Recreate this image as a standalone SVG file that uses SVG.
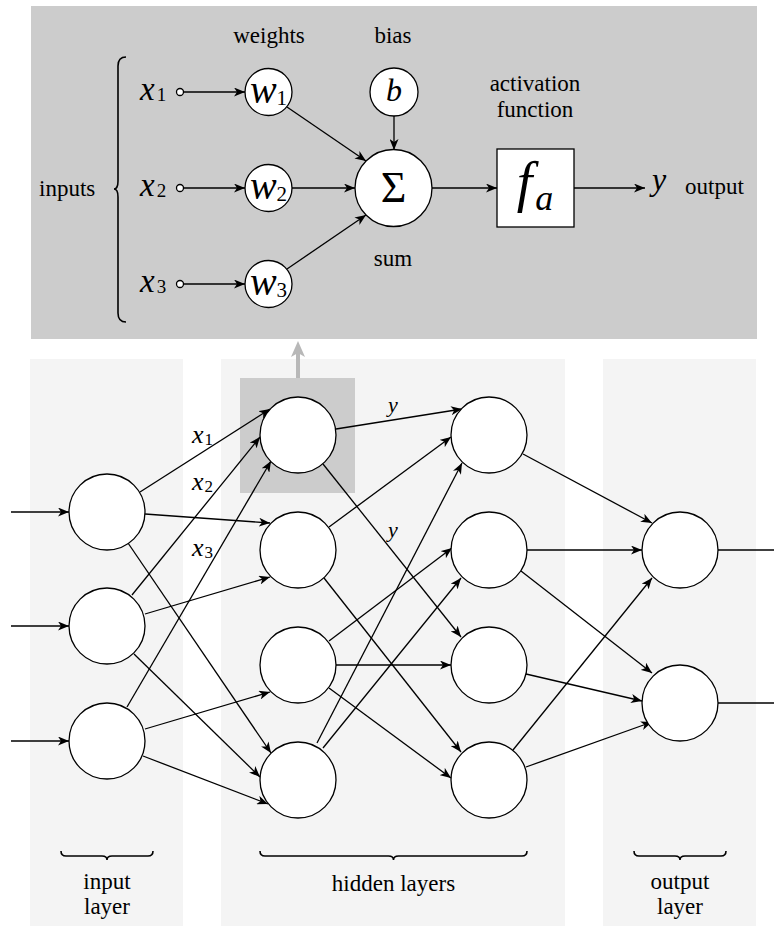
<svg xmlns="http://www.w3.org/2000/svg" width="774" height="926" viewBox="0 0 774 926">
  <style>
    text { font-family: "Liberation Serif", "Times New Roman", serif; fill: #000; }
    .lbl { font-size: 23px; }
    .it { font-style: italic; }
    .sub { font-style: normal; }
    .edge { stroke: #000; stroke-width: 1.3; fill: none; marker-end: url(#arr); }
    .wire { stroke: #000; stroke-width: 1.3; fill: none; }
    .node { fill: #fff; stroke: #000; stroke-width: 1.3; }
    .brace { fill: none; stroke: #000; stroke-width: 1.6; }
    .panel { fill: #f4f4f4; }
  </style>
  <defs>
    <marker id="arr" markerUnits="userSpaceOnUse" viewBox="0 0 12 9" markerWidth="12" markerHeight="9" refX="11" refY="4.5" orient="auto">
      <path d="M0,0 L11,4.5 L0,9 L3,4.5 Z" fill="#000"/>
    </marker>
  </defs>

  <!-- single neuron detail -->
  <rect id="neuron-panel" x="31" y="6" width="726" height="333" fill="#cccccc"/>

  <!-- layer backgrounds -->
  <rect class="panel" x="30" y="359" width="153" height="567"/>
  <rect class="panel" x="221" y="359" width="344" height="567"/>
  <rect class="panel" x="603" y="359" width="153" height="567"/>
  <rect id="highlight" x="240" y="378" width="115" height="115" fill="#cccccc"/>

  <!-- zoom pointer from highlighted neuron to detail -->
  <g id="zoom-pointer">
    <line x1="298" y1="378" x2="298" y2="352" stroke="#b8b8b8" stroke-width="4"/>
    <path d="M298,341 L305,357 L298,353 L291,357 Z" fill="#b8b8b8"/>
  </g>

  <!-- labels of the neuron detail -->
  <g id="neuron-labels">
    <text class="lbl" x="269" y="43" text-anchor="middle">weights</text>
    <text class="lbl" x="393" y="43" text-anchor="middle">bias</text>
    <text class="lbl" x="535" y="91" text-anchor="middle">activation</text>
    <text class="lbl" x="535" y="117" text-anchor="middle">function</text>
    <text class="lbl" x="393" y="266" text-anchor="middle">sum</text>
    <text class="lbl" x="39" y="196">inputs</text>
    <text class="lbl" x="685" y="194">output</text>
    <path class="brace" d="M126,57 Q118,57 118,66 L118,181 Q118,189 114,189 Q118,189 118,197 L118,313 Q118,322 126,322"/>
  </g>

  <!-- neuron detail connectors -->
  <g id="neuron-connectors">
    <line class="edge" x1="184" y1="92" x2="245" y2="92"/>
    <line class="edge" x1="184" y1="188" x2="245" y2="188"/>
    <line class="edge" x1="184" y1="284" x2="245" y2="284"/>
    <line class="edge" x1="287" y1="107" x2="366" y2="161"/>
    <line class="edge" x1="292" y1="188" x2="355" y2="188"/>
    <line class="edge" x1="287" y1="269" x2="366" y2="215"/>
    <line class="edge" x1="394" y1="116" x2="394" y2="150"/>
    <line class="edge" x1="432" y1="188" x2="497" y2="188"/>
    <line class="edge" x1="574" y1="188" x2="645" y2="188"/>
  </g>

  <!-- neuron detail nodes -->
  <g id="in-x1">
    <circle class="node" cx="180" cy="92" r="3.5"/>
    <text class="it" x="140" y="100" font-size="33">x<tspan class="sub" font-size="19" dx="2" dy="1">1</tspan></text>
  </g>
  <g id="in-x2">
    <circle class="node" cx="180" cy="188" r="3.5"/>
    <text class="it" x="140" y="196" font-size="33">x<tspan class="sub" font-size="19" dx="2" dy="1">2</tspan></text>
  </g>
  <g id="in-x3">
    <circle class="node" cx="180" cy="284" r="3.5"/>
    <text class="it" x="140" y="292" font-size="33">x<tspan class="sub" font-size="19" dx="2" dy="1">3</tspan></text>
  </g>
  <g id="weight-w1">
    <circle class="node" cx="268.5" cy="92" r="23.5"/>
    <text class="it" x="268.5" y="103" font-size="40" text-anchor="middle">w<tspan class="sub" font-size="21" dy="2">1</tspan></text>
  </g>
  <g id="weight-w2">
    <circle class="node" cx="268.5" cy="188" r="23.5"/>
    <text class="it" x="268.5" y="199" font-size="40" text-anchor="middle">w<tspan class="sub" font-size="21" dy="2">2</tspan></text>
  </g>
  <g id="weight-w3">
    <circle class="node" cx="268.5" cy="284" r="23.5"/>
    <text class="it" x="268.5" y="295" font-size="40" text-anchor="middle">w<tspan class="sub" font-size="21" dy="2">3</tspan></text>
  </g>
  <g id="bias-b">
    <circle class="node" cx="394" cy="92" r="24"/>
    <text class="it" x="394" y="101" font-size="32" text-anchor="middle">b</text>
  </g>
  <g id="sum">
    <circle class="node" cx="393.5" cy="188" r="38.5"/>
    <text x="393.5" y="202" font-size="44" text-anchor="middle">Σ</text>
  </g>
  <g id="activation">
    <rect class="node" x="497" y="149" width="77" height="78"/>
    <text class="it" x="535" y="201" font-size="56" text-anchor="middle">f<tspan font-size="36" dx="3" dy="9">a</tspan></text>
  </g>
  <g id="out-y">
    <text class="it" x="652" y="190" font-size="32">y</text>
  </g>

  <!-- network connectors -->
  <g id="connectors">
    <line class="edge" x1="11" y1="512" x2="69" y2="512"/>
    <line class="edge" x1="11" y1="626" x2="69" y2="626"/>
    <line class="edge" x1="11" y1="741" x2="69" y2="741"/>

    <line class="edge" x1="140" y1="492" x2="270" y2="409"/>
    <line class="edge" x1="145" y1="514" x2="270" y2="523"/>
    <line class="edge" x1="128" y1="543" x2="271" y2="753"/>
    <line class="edge" x1="132" y1="595" x2="260" y2="437"/>
    <line class="edge" x1="145" y1="614" x2="270" y2="577"/>
    <line class="edge" x1="134" y1="654" x2="260" y2="777"/>
    <line class="edge" x1="127" y1="707" x2="271" y2="461"/>
    <line class="edge" x1="145" y1="729" x2="270" y2="692"/>
    <line class="edge" x1="143" y1="756" x2="268" y2="804"/>

    <line class="edge" x1="336" y1="429" x2="462" y2="409"/>
    <line class="edge" x1="323" y1="464" x2="461" y2="637"/>
    <line class="edge" x1="329" y1="527" x2="451" y2="437"/>
    <line class="edge" x1="324" y1="578" x2="461" y2="752"/>
    <line class="edge" x1="329" y1="641" x2="452" y2="548"/>
    <line class="edge" x1="336" y1="665" x2="451" y2="665"/>
    <line class="edge" x1="329" y1="688" x2="451" y2="778"/>
    <line class="edge" x1="317" y1="743" x2="462" y2="463"/>
    <line class="edge" x1="323" y1="748" x2="461" y2="578"/>

    <line class="edge" x1="523" y1="454" x2="652" y2="523"/>
    <line class="edge" x1="527" y1="550" x2="642" y2="550"/>
    <line class="edge" x1="521" y1="571" x2="652" y2="673"/>
    <line class="edge" x1="526" y1="674" x2="642" y2="701"/>
    <line class="edge" x1="513" y1="750" x2="652" y2="578"/>
    <line class="edge" x1="526" y1="767" x2="652" y2="722"/>

    <line class="wire" x1="718" y1="550" x2="774" y2="550"/>
    <line class="wire" x1="718" y1="703" x2="774" y2="703"/>

    <text class="it" x="192" y="443" font-size="26">x<tspan class="sub" font-size="17" dx="1" dy="2">1</tspan></text>
    <text class="it" x="192" y="490" font-size="26">x<tspan class="sub" font-size="17" dx="1" dy="2">2</tspan></text>
    <text class="it" x="192" y="556" font-size="26">x<tspan class="sub" font-size="17" dx="1" dy="2">3</tspan></text>
    <text class="it" x="393" y="412" font-size="22" text-anchor="middle">y</text>
    <text class="it" x="393" y="537" font-size="22" text-anchor="middle">y</text>
  </g>

  <!-- input layer -->
  <g id="input-1"><circle class="node" cx="107" cy="512" r="38"/></g>
  <g id="input-2"><circle class="node" cx="107" cy="626" r="38"/></g>
  <g id="input-3"><circle class="node" cx="107" cy="741" r="38"/></g>

  <!-- first hidden layer -->
  <g id="hidden1-1"><circle class="node" cx="298" cy="435" r="38"/></g>
  <g id="hidden1-2"><circle class="node" cx="298" cy="550" r="38"/></g>
  <g id="hidden1-3"><circle class="node" cx="298" cy="665" r="38"/></g>
  <g id="hidden1-4"><circle class="node" cx="298" cy="780" r="38"/></g>

  <!-- second hidden layer -->
  <g id="hidden2-1"><circle class="node" cx="489" cy="435" r="38"/></g>
  <g id="hidden2-2"><circle class="node" cx="489" cy="550" r="38"/></g>
  <g id="hidden2-3"><circle class="node" cx="489" cy="665" r="38"/></g>
  <g id="hidden2-4"><circle class="node" cx="489" cy="780" r="38"/></g>

  <!-- output layer -->
  <g id="output-1"><circle class="node" cx="680" cy="550" r="38"/></g>
  <g id="output-2"><circle class="node" cx="680" cy="703" r="38"/></g>

  <!-- layer captions -->
  <g id="layer-captions">
    <path class="brace" d="M61,851 Q61,856 66,856 L102,856 Q107,856 107,860 Q107,856 112,856 L148,856 Q153,856 153,851"/>
    <path class="brace" d="M260,851 Q260,856 265,856 L388.5,856 Q393.5,856 393.5,860 Q393.5,856 398.5,856 L522,856 Q527,856 527,851"/>
    <path class="brace" d="M634,851 Q634,856 639,856 L675,856 Q680,856 680,860 Q680,856 685,856 L721,856 Q726,856 726,851"/>
    <text class="lbl" x="107" y="889" text-anchor="middle">input</text>
    <text class="lbl" x="107" y="914" text-anchor="middle">layer</text>
    <text class="lbl" x="393.5" y="891" text-anchor="middle">hidden layers</text>
    <text class="lbl" x="680" y="889" text-anchor="middle">output</text>
    <text class="lbl" x="680" y="914" text-anchor="middle">layer</text>
  </g>
</svg>
